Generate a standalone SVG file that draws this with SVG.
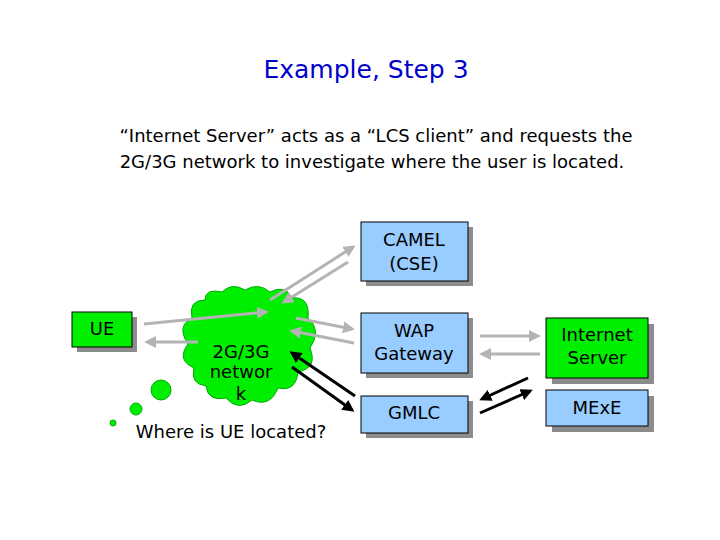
<svg xmlns="http://www.w3.org/2000/svg" width="720" height="540" viewBox="0 0 720 540">
<style>
text{font-family:"DejaVu Sans",Verdana,sans-serif;text-anchor:middle}
.sh{fill:#8c8c8c}
.b{fill:#99ccff;stroke:#000;stroke-width:1}
.g{fill:#00ee00;stroke:#000;stroke-width:1}
.t{font-size:18px;fill:#000}
.ga{stroke:#b4b4b4;stroke-width:3;fill:none;marker-end:url(#ag)}
.ka{stroke:#000;stroke-width:3;fill:none;marker-end:url(#ak)}
</style>
<defs>
<marker id="ag" markerWidth="4" markerHeight="4" refX="3" refY="2" orient="auto"><path d="M0,0L4,2L0,4z" fill="#b4b4b4"/></marker>
<marker id="ak" markerWidth="4" markerHeight="4" refX="3" refY="2" orient="auto"><path d="M0,0L4,2L0,4z" fill="#000"/></marker>
</defs>
<rect width="720" height="540" fill="#fff"/>
<text x="366" y="78" font-size="25" fill="#0000cc">Example, Step 3</text>
<text x="376" y="142" font-size="18">“Internet Server” acts as a “LCS client” and requests the</text>
<text x="372" y="168" font-size="18">2G/3G network to investigate where the user is located.</text>
<g id="cloud">
<path d="M205,300 Q205,288 222,292 Q232,282 245,290 Q258,282 270,292 Q285,284 292,298 Q310,296 308,318 Q322,330 310,348 Q318,368 298,372 Q296,392 278,388 Q270,408 252,400 Q238,412 226,398 Q208,402 206,386 Q190,384 194,368 Q176,360 188,344 Q176,326 192,318 Q188,300 205,300 Z" fill="#00ee00" stroke="#00aa00" stroke-width="1"/>
<text class="t" x="241" y="358">2G/3G</text>
<text class="t" x="241" y="378">networ</text>
<text class="t" x="241" y="400">k</text>
<circle cx="161" cy="390" r="10" fill="#00ee00" stroke="#00aa00"/>
<circle cx="136" cy="409" r="6" fill="#00ee00" stroke="#00aa00"/>
<circle cx="113" cy="423" r="3" fill="#00ee00" stroke="#00aa00"/>
<text class="t" x="231" y="438">Where is UE located?</text>
</g>
<g id="ue"><rect class="sh" x="77" y="317" width="60" height="35"/><rect class="g" x="72" y="312" width="60" height="35"/><text class="t" x="102" y="335">UE</text></g>
<g id="camel"><rect class="sh" x="366" y="227" width="107" height="59"/><rect class="b" x="361" y="222" width="107" height="59"/><text class="t" x="414" y="246">CAMEL</text><text class="t" x="414" y="270">(CSE)</text></g>
<g id="wap"><rect class="sh" x="366" y="318" width="107" height="60"/><rect class="b" x="361" y="313" width="107" height="60"/><text class="t" x="414" y="337">WAP</text><text class="t" x="414" y="360">Gateway</text></g>
<g id="gmlc"><rect class="sh" x="366" y="401" width="107" height="37"/><rect class="b" x="361" y="396" width="107" height="37"/><text class="t" x="414" y="419">GMLC</text></g>
<g id="internet"><rect class="sh" x="552" y="324" width="102" height="60"/><rect class="g" x="546" y="318" width="102" height="60"/><text class="t" x="597" y="341">Internet</text><text class="t" x="597" y="364">Server</text></g>
<g id="mexe"><rect class="sh" x="552" y="396" width="102" height="36"/><rect class="b" x="546" y="390" width="102" height="36"/><text class="t" x="597" y="414">MExE</text></g>
<g id="connectors">
<path class="ga" d="M144,324L266,312"/>
<path class="ga" d="M198,342L147,342"/>
<path class="ga" d="M270,300L353,247"/>
<path class="ga" d="M348,262L284,302"/>
<path class="ga" d="M296,318L352,329"/>
<path class="ga" d="M354,343L292,331"/>
<path class="ga" d="M480,336L538,336"/>
<path class="ga" d="M540,354L482,354"/>
<path class="ka" d="M355,396L292,353"/>
<path class="ka" d="M292,367L352,410"/>
<path class="ka" d="M528,378L482,399"/>
<path class="ka" d="M480,413L530,391"/>
</g>
</svg>
